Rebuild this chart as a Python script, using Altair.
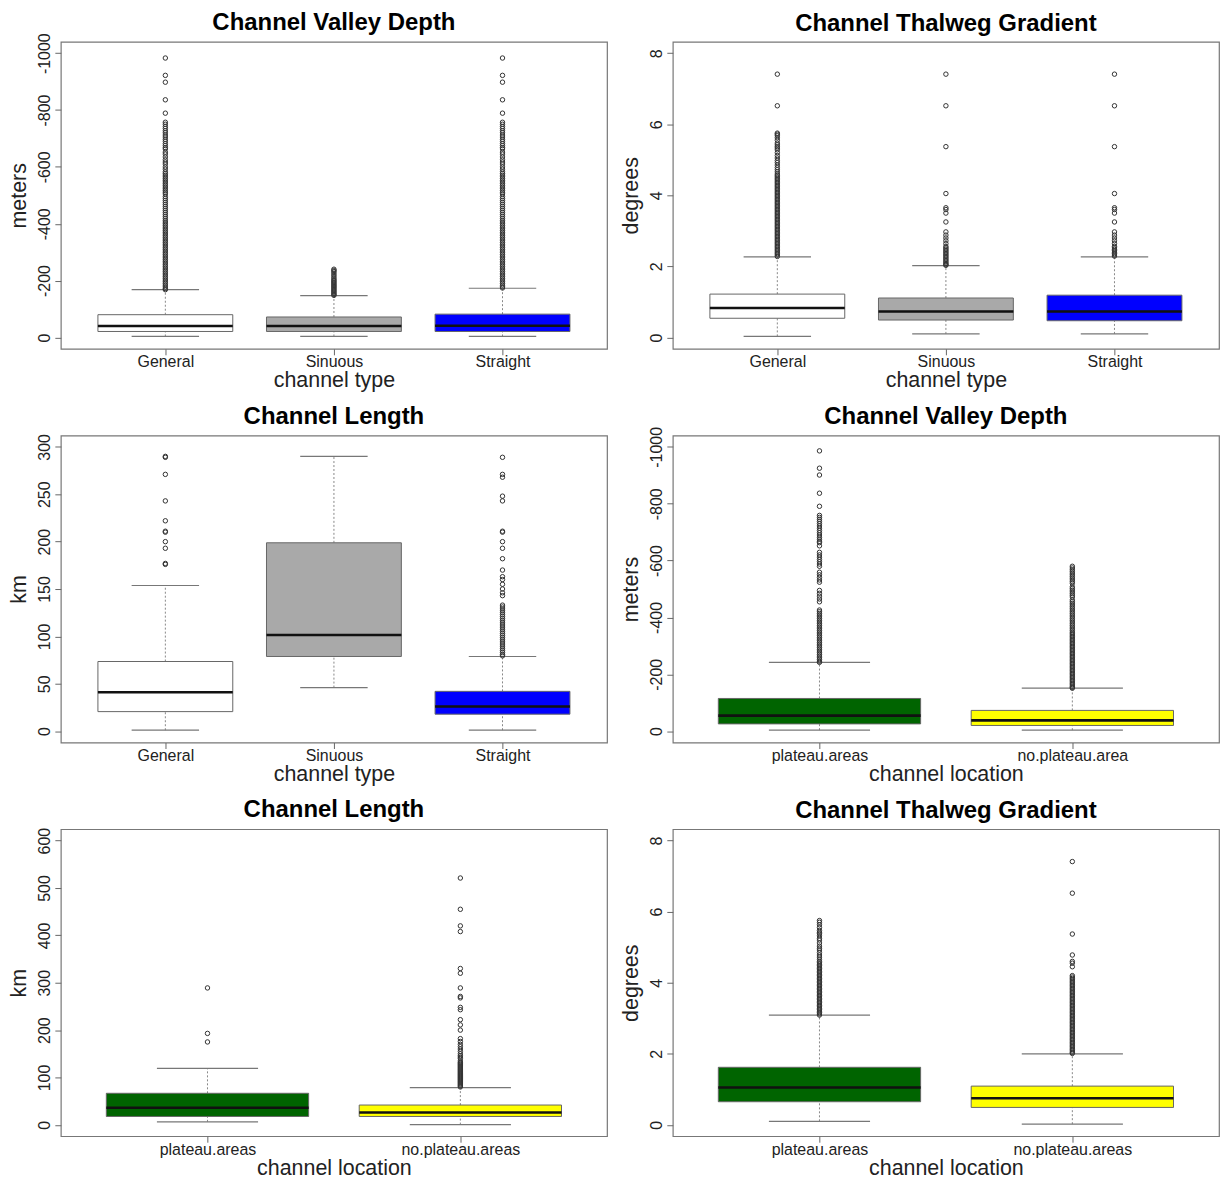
import altair as alt
import pandas as pd

FONT = "Liberation Sans"

# ---------------- categories / colours ----------------
type_cats = ["General", "Sinuous", "Straight"]
loc_cats_depth = ["plateau.areas", "no.plateau.area"]
loc_cats = ["plateau.areas", "no.plateau.areas"]
type_colors = ["#FFFFFF", "#A9A9A9", "#0000FF"]
loc_colors = ["#006400", "#FFFF00"]

# ---------------- Panel 1: Channel Valley Depth by type ----------------
p1_lo = [-3.5, -3.5, -3.5]
p1_q1 = [-21, -21, -21]
p1_med = [-40, -40, -41]
p1_q3 = [-80, -72, -82]
p1_hi = [-168, -147, -173]
p1_out_general = [-983, -922, -898, -836, -789,
                  -757, -750, -742, -735, -727, -720, -712, -705, -697, -690, -682, -675, -668, -663,
                  -652, -645, -635, -625, -617, -610, -600, -592,
                  -583, -577, -571, -565, -559, -553, -547, -541, -535, -529, -523, -517, -511, -505,
                  -496, -489, -482, -475, -468, -461, -454, -447, -440, -433, -426, -419, -412,
                  -406, -400, -394, -388, -382, -376, -370, -364, -358, -352, -346, -340, -334, -328,
                  -322, -316, -310, -304, -298, -292, -286, -280, -274, -268, -262, -256, -250, -244,
                  -238, -232, -226, -220, -214, -208, -202, -196, -190, -184, -178, -172, -168]
p1_out_sinuous = [-240, -236, -232, -226, -220, -214, -208, -203, -199, -195, -191, -187, -183,
                  -179, -175, -171, -167, -163, -159, -155, -151, -148]
p1_out_straight = [-983, -922, -898, -836, -789,
                   -757, -750, -742, -735, -727, -720, -712, -705, -697, -690, -682, -675, -668, -663,
                   -652, -645, -635, -625, -617, -610, -600, -592,
                   -583, -577, -571, -565, -559, -553, -547, -541, -535, -529, -523, -517, -511, -505,
                   -496, -489, -482, -475, -468, -461, -454, -447, -440, -433, -426, -419, -412,
                   -406, -400, -394, -388, -382, -376, -370, -364, -358, -352, -346, -340, -334, -328,
                   -322, -316, -310, -304, -298, -292, -286, -280, -274, -268, -262, -256, -250, -244,
                   -238, -232, -226, -220, -214, -208, -202, -196, -190, -184, -178, -174]

# ---------------- Panel 2: Channel Thalweg Gradient by type ----------------
p2_lo = [0.03, 0.10, 0.10]
p2_q1 = [0.54, 0.49, 0.47]
p2_med = [0.83, 0.73, 0.73]
p2_q3 = [1.22, 1.11, 1.19]
p2_hi = [2.27, 2.02, 2.27]
p2_out_general = [7.41, 6.52, 5.75, 5.72, 5.68, 5.62, 5.55, 5.47, 5.42, 5.37, 5.33, 5.28, 5.2, 5.12,
                  5.05, 4.98, 4.92, 4.85, 4.78, 4.72, 4.66, 4.6, 4.56, 4.52, 4.48, 4.44, 4.4, 4.36,
                  4.32, 4.28, 4.24, 4.2, 4.16, 4.12, 4.08, 4.04, 4.0, 3.96, 3.92, 3.88, 3.84, 3.8,
                  3.76, 3.72, 3.68, 3.64, 3.6, 3.56, 3.52, 3.48, 3.44, 3.4, 3.36, 3.32, 3.28, 3.24,
                  3.2, 3.16, 3.12, 3.08, 3.04, 3.0, 2.96, 2.92, 2.88, 2.84, 2.8, 2.76, 2.72, 2.68,
                  2.64, 2.6, 2.56, 2.52, 2.48, 2.44, 2.4, 2.36, 2.32, 2.28]
p2_out_sinuous = [7.41, 6.52, 5.37, 4.05, 3.65, 3.6, 3.5, 3.25, 2.97, 2.88, 2.8, 2.72, 2.64, 2.56,
                  2.52, 2.48, 2.44, 2.4, 2.36, 2.32, 2.28, 2.24, 2.2, 2.16, 2.12, 2.08, 2.05, 2.03]
p2_out_straight = [7.41, 6.52, 5.37, 4.05, 3.65, 3.6, 3.5, 3.25, 2.97, 2.88, 2.8, 2.72, 2.64,
                   2.56, 2.52, 2.48, 2.44, 2.4, 2.36, 2.32, 2.29]

# ---------------- Panel 3: Channel Length by type ----------------
p3_lo = [1, 46, 1]
p3_q1 = [20.6, 78.8, 17.9]
p3_med = [41, 101.5, 26]
p3_q3 = [73.5, 198.8, 42]
p3_hi = [153.7, 290, 78.8]
p3_out_general = [290, 289, 271, 243, 222, 211, 210, 200, 193, 177, 176]
p3_out_sinuous = []
p3_out_straight = [289, 271, 268, 248, 243, 211, 210, 200, 193, 182, 170, 163, 160, 155, 150, 146,
                   143, 133, 131, 129, 127, 125, 123, 121, 119, 117, 115, 113, 111, 109, 107, 105,
                   103, 101, 99, 97, 95, 93, 91, 89, 87, 85, 83, 81, 79.5]

# ---------------- Panel 4: Channel Valley Depth by location ----------------
p4_lo = [-3.5, -3.5]
p4_q1 = [-25.5, -20]
p4_med = [-54.5, -38]
p4_q3 = [-115, -73]
p4_hi = [-242, -151]
p4_out_plateau = [-986, -925, -901, -837, -791,
                  -759, -752, -745, -738, -730, -722, -714, -706, -698, -690, -682, -675, -668, -663,
                  -652, -629, -620, -612, -604, -596, -588, -580,
                  -559, -550, -541, -532, -524, -495, -485, -475, -465, -455, -426,
                  -420, -414, -408, -402, -396, -390, -384, -378, -372, -366, -360, -354, -348, -342,
                  -336, -330, -324, -318, -312, -306, -300, -294, -288, -282, -276, -270, -264, -258,
                  -252, -246, -242]
p4_out_noplateau = [-580, -574, -568, -562, -556, -550, -544, -538, -532, -526, -520,
                    -508, -502, -496, -490, -484, -478, -472,
                    -462, -456, -450, -444, -438, -432, -426, -420, -414, -408, -402, -396, -390,
                    -384, -378, -372, -366, -360, -354, -348, -343, -338, -333, -328, -323, -318,
                    -313, -308, -303, -298, -293, -288, -283, -278, -273, -268, -263, -258, -253,
                    -248, -243, -238, -233, -228, -223, -218, -213, -208, -203, -198, -193, -188,
                    -183, -178, -173, -168, -163, -158, -154, -151]

# ---------------- Panel 5: Channel Length by location ----------------
p5_lo = [6.4, 0.5]
p5_q1 = [17.7, 17.7]
p5_med = [36, 26]
p5_q3 = [66.6, 41.8]
p5_hi = [119, 78.6]
p5_out_plateau = [289, 193, 175]
p5_out_noplateau = [521, 455, 420, 408, 330, 320, 289, 271, 268, 248, 243, 222, 211, 200, 182, 176,
                    170, 165, 160, 155, 150, 146, 143, 140, 135, 132, 130, 128, 126, 124, 122, 120,
                    118, 116, 114, 112, 110, 108, 106, 104, 102, 100, 98, 96, 94, 92, 90, 88, 86,
                    84, 82, 80]

# ---------------- Panel 6: Channel Thalweg Gradient by location ----------------
p6_lo = [0.10, 0.02]
p6_q1 = [0.65, 0.49]
p6_med = [1.05, 0.75]
p6_q3 = [1.62, 1.09]
p6_hi = [3.09, 2.0]
p6_out_plateau = [5.75, 5.7, 5.63, 5.55, 5.47, 5.42, 5.38, 5.32, 5.25, 5.2, 5.12, 5.03, 4.97, 4.92,
                  4.85, 4.78, 4.72, 4.66, 4.6, 4.56, 4.52, 4.48, 4.44, 4.4, 4.36, 4.32, 4.28, 4.24,
                  4.2, 4.16, 4.12, 4.08, 4.04, 4.0, 3.96, 3.92, 3.88, 3.84, 3.8, 3.76, 3.72, 3.68,
                  3.64, 3.6, 3.56, 3.52, 3.48, 3.44, 3.4, 3.36, 3.32, 3.28, 3.24, 3.2, 3.16, 3.12,
                  3.09]
p6_out_noplateau = [7.41, 6.52, 5.37, 4.78, 4.6, 4.55, 4.45, 4.2, 4.16, 4.12, 4.08, 4.04, 4.0,
                    3.96, 3.92, 3.88, 3.84, 3.8, 3.76, 3.72, 3.68, 3.64, 3.6, 3.56, 3.52, 3.48,
                    3.44, 3.4, 3.36, 3.32, 3.28, 3.24, 3.2, 3.16, 3.12, 3.08, 3.04, 3.0, 2.96,
                    2.92, 2.88, 2.84, 2.8, 2.76, 2.72, 2.68, 2.64, 2.6, 2.56, 2.52, 2.48, 2.44,
                    2.4, 2.36, 2.32, 2.28, 2.24, 2.2, 2.16, 2.12, 2.08, 2.04, 2.01]

# tick values
depth_ticks = [0, -200, -400, -600, -800, -1000]
grad_ticks = [0, 2, 4, 6, 8]
len_ticks_a = [0, 50, 100, 150, 200, 250, 300]
len_ticks_b = [0, 100, 200, 300, 400, 500, 600]

W, H = 548, 308
BOX_HALF = 0.4
CAP_HALF = 0.2


def panel(title, cats, colors, lo, q1, med, q3, hi, outs, ylim, yticks, ytitle, xtitle,
          reverse=False, title_dy=0):
    n = len(cats)
    pos = list(range(1, n + 1))
    box = pd.DataFrame({
        "cat": cats, "pos": pos,
        "x0": [p - BOX_HALF for p in pos], "x1": [p + BOX_HALF for p in pos],
        "c0": [p - CAP_HALF for p in pos], "c1": [p + CAP_HALF for p in pos],
        "lo": lo, "q1": q1, "med": med, "q3": q3, "hi": hi, "color": colors,
    })
    out = pd.DataFrame([(p, v) for p, vals in zip(pos, outs) for v in vals], columns=["pos", "val"])

    ext = 0.04 * n
    xs = alt.Scale(domain=[0.5 - ext, n + 0.5 + ext], nice=False, zero=False)
    lo_, hi_ = ylim
    yext = 0.04 * (hi_ - lo_)
    if reverse:
        ys = alt.Scale(domain=[hi_ + yext, lo_ - yext], nice=False, zero=False)
    else:
        ys = alt.Scale(domain=[lo_ - yext, hi_ + yext], nice=False, zero=False)

    label_arr = "[''," + ",".join("'%s'" % c for c in cats) + "]"
    xaxis = alt.Axis(values=pos, labelExpr=label_arr + "[datum.value]", title=xtitle,
                     labelPadding=-1, titlePadding=0, tickSize=6, labelFontSize=16, labelAngle=0)
    yaxis = alt.Axis(values=yticks, labelExpr="datum.value + ''", title=ytitle, labelAngle=270,
                     labelAlign="center", labelBaseline="bottom", labelPadding=2, tickSize=6,
                     titlePadding=6)

    def X(f):
        return alt.X(f, type="quantitative", scale=xs, axis=xaxis)

    def Y(f):
        return alt.Y(f, type="quantitative", scale=ys, axis=yaxis)

    base = alt.Chart(box)
    whisk_up = base.mark_rule(color="#888", strokeDash=[2, 2], strokeWidth=1).encode(
        x=X("pos"), y=Y("q3"), y2="hi")
    whisk_dn = base.mark_rule(color="#888", strokeDash=[2, 2], strokeWidth=1).encode(
        x=X("pos"), y=Y("lo"), y2="q1")
    cap_up = base.mark_rule(color="#777", strokeWidth=1.2).encode(x=X("c0"), x2="c1", y=Y("hi"))
    cap_dn = base.mark_rule(color="#777", strokeWidth=1.2).encode(x=X("c0"), x2="c1", y=Y("lo"))
    rect = base.mark_rect(stroke="#666", strokeWidth=1).encode(
        x=X("x0"), x2="x1", y=Y("q1"), y2="q3", fill=alt.Fill("color:N", scale=None))
    median = base.mark_rule(color="#111", strokeWidth=2.6).encode(x=X("x0"), x2="x1", y=Y("med"))
    layers = [whisk_up, whisk_dn, cap_up, cap_dn, rect, median]
    if len(out):
        pts = alt.Chart(out).mark_point(shape="circle", filled=False, size=20, stroke="#333",
                                        strokeWidth=1, opacity=1).encode(x=X("pos"), y=Y("val"))
        layers.append(pts)
    return alt.layer(*layers).properties(
        width=W, height=H,
        title=alt.TitleParams(title, fontSize=24, fontWeight="bold", font=FONT, color="black",
                              anchor="middle", offset=6, dy=title_dy))


c1 = panel("Channel Valley Depth", type_cats, type_colors, p1_lo, p1_q1, p1_med, p1_q3, p1_hi,
           [p1_out_general, p1_out_sinuous, p1_out_straight], (-1000, 0), depth_ticks,
           "meters", "channel type", reverse=True, title_dy=8)
c2 = panel("Channel Thalweg Gradient", type_cats, type_colors, p2_lo, p2_q1, p2_med, p2_q3, p2_hi,
           [p2_out_general, p2_out_sinuous, p2_out_straight], (0, 8), grad_ticks,
           "degrees", "channel type")
c3 = panel("Channel Length", type_cats, type_colors, p3_lo, p3_q1, p3_med, p3_q3, p3_hi,
           [p3_out_general, p3_out_sinuous, p3_out_straight], (0, 300), len_ticks_a,
           "km", "channel type", title_dy=1)
c4 = panel("Channel Valley Depth", loc_cats_depth, loc_colors, p4_lo, p4_q1, p4_med, p4_q3, p4_hi,
           [p4_out_plateau, p4_out_noplateau], (-1000, 0), depth_ticks,
           "meters", "channel location", reverse=True, title_dy=8)
c5 = panel("Channel Length", loc_cats, loc_colors, p5_lo, p5_q1, p5_med, p5_q3, p5_hi,
           [p5_out_plateau, p5_out_noplateau], (0, 600), len_ticks_b,
           "km", "channel location", title_dy=1)
c6 = panel("Channel Thalweg Gradient", loc_cats, loc_colors, p6_lo, p6_q1, p6_med, p6_q3, p6_hi,
           [p6_out_plateau, p6_out_noplateau], (0, 8), grad_ticks,
           "degrees", "channel location")

chart = alt.concat(c1, c2, c3, c4, c5, c6, columns=2, spacing={"row": 11, "column": 12}).properties(
    padding={"left": 0, "top": 0, "right": 0, "bottom": 0}
).configure_view(
    stroke="#777", strokeWidth=1.2
).configure_axis(
    labelFont=FONT, titleFont=FONT, labelFontSize=16, titleFontSize=21.5, titleFontWeight="normal",
    labelColor="#222", titleColor="#222", tickColor="#666", domain=False, grid=False
).configure_title(font=FONT)

chart.save("out.html", embed_options={"renderer": "svg", "actions": False})
